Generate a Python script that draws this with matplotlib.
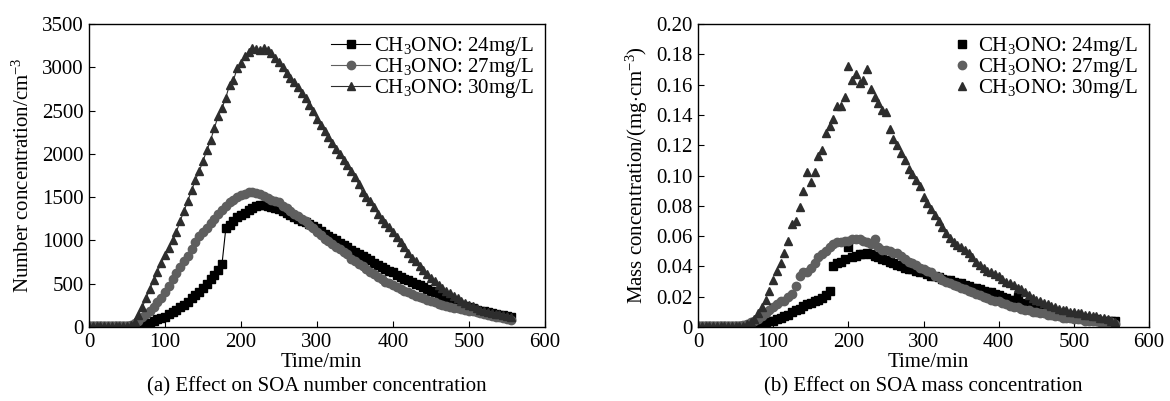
import numpy as np
import matplotlib
matplotlib.use('Agg')
import matplotlib.pyplot as plt

plt.rcParams['font.family'] = ['Liberation Serif', 'DejaVu Serif']
plt.rcParams['mathtext.fontset'] = 'custom'
plt.rcParams['mathtext.rm'] = 'Liberation Serif'
plt.rcParams['mathtext.it'] = 'Liberation Serif:italic'
plt.rcParams['font.size'] = 15

# time axis, min (sampled every 5 min)
t = np.arange(0, 560, 5)

labels = ['CH$_3$ONO: 24mg/L', 'CH$_3$ONO: 27mg/L', 'CH$_3$ONO: 30mg/L']

# (a) number concentration, cm^-3
n24 = [10, 10, 10, 10, 10, 10, 10, 10, 10, 10,
       10, 8, 5, 8, 15, 30, 50, 70, 90, 105,
       120, 145, 170, 200, 230, 260, 290, 330, 370, 410,
       450, 500, 550, 600, 660, 730, 1140, 1180, 1230, 1270,
       1290, 1320, 1350, 1380, 1400, 1415, 1410, 1400, 1390, 1375,
       1360, 1340, 1320, 1295, 1270, 1250, 1230, 1210, 1190, 1165,
       1140, 1110, 1080, 1055, 1030, 1000, 970, 945, 920, 895,
       870, 845, 820, 795, 770, 745, 720, 695, 670, 650,
       630, 605, 580, 560, 540, 520, 500, 480, 460, 440,
       420, 400, 380, 360, 340, 320, 300, 280, 260, 245,
       230, 215, 200, 190, 180, 170, 160, 150, 140, 135,
       130, 120]
n27 = [10, 10, 10, 10, 10, 10, 10, 10, 10, 10,
       15, 25, 45, 75, 110, 145, 180, 230, 290, 340,
       400, 470, 560, 620, 690, 760, 820, 900, 980, 1050,
       1100, 1140, 1200, 1250, 1300, 1350, 1400, 1440, 1470, 1500,
       1520, 1540, 1555, 1560, 1550, 1540, 1510, 1490, 1470, 1460,
       1440, 1400, 1370, 1340, 1310, 1280, 1250, 1220, 1180, 1140,
       1100, 1060, 1020, 990, 960, 930, 900, 870, 840, 780,
       760, 730, 700, 670, 640, 610, 580, 550, 520, 505,
       490, 465, 440, 420, 400, 380, 360, 345, 330, 315,
       300, 285, 270, 255, 245, 235, 225, 215, 205, 198,
       190, 180, 170, 160, 150, 140, 130, 120, 110, 100,
       90, 85]
n30 = [10, 10, 10, 10, 10, 10, 10, 10, 10, 10,
       10, 20, 60, 140, 230, 330, 440, 540, 640, 740,
       830, 910, 1000, 1100, 1230, 1340, 1460, 1580, 1700, 1800,
       1920, 2040, 2160, 2300, 2440, 2530, 2650, 2800, 2850, 2990,
       3050, 3130, 3180, 3220, 3210, 3200, 3220, 3200, 3160, 3110,
       3060, 3000, 2930, 2880, 2830, 2770, 2700, 2640, 2560, 2500,
       2400, 2330, 2260, 2190, 2120, 2060, 2000, 1930, 1870, 1800,
       1730, 1650, 1560, 1500, 1450, 1390, 1310, 1250, 1200, 1160,
       1100, 1040, 980, 920, 860, 800, 760, 710, 660, 610,
       570, 530, 490, 455, 420, 390, 360, 330, 300, 280,
       260, 240, 220, 200, 190, 175, 165, 155, 145, 135,
       125, 120]

# (b) mass concentration, mg/cm^3
m24 = [0.001, 0.001, 0.001, 0.001, 0.001, 0.001, 0.001, 0.001, 0.001, 0.001,
       0.001, 0.001, 0.001, 0.001, 0.001, 0.001, 0.001, 0.002, 0.003, 0.004,
       0.004, 0.005, 0.006, 0.007, 0.008, 0.010, 0.011, 0.012, 0.014, 0.015,
       0.016, 0.017, 0.018, 0.019, 0.021, 0.024, 0.040, 0.042, 0.043, 0.045,
       0.053, 0.046, 0.047, 0.048, 0.048, 0.049, 0.048, 0.047, 0.046, 0.045,
       0.044, 0.043, 0.042, 0.041, 0.040, 0.039, 0.038, 0.038, 0.037, 0.036,
       0.036, 0.035, 0.034, 0.034, 0.033, 0.032, 0.031, 0.031, 0.030, 0.029,
       0.029, 0.028, 0.027, 0.026, 0.026, 0.025, 0.024, 0.023, 0.023, 0.022,
       0.021, 0.020, 0.019, 0.018, 0.018, 0.020, 0.016, 0.015, 0.015, 0.014,
       0.013, 0.013, 0.012, 0.011, 0.011, 0.010, 0.009, 0.009, 0.008, 0.008,
       0.007, 0.007, 0.006, 0.006, 0.005, 0.005, 0.005, 0.004, 0.004, 0.004,
       0.004, 0.004]
m27 = [0.001, 0.001, 0.001, 0.001, 0.001, 0.001, 0.001, 0.001, 0.001, 0.001,
       0.001, 0.001, 0.0015, 0.002, 0.003, 0.004, 0.005, 0.007, 0.009, 0.011,
       0.013, 0.015, 0.017, 0.017, 0.020, 0.022, 0.027, 0.034, 0.036, 0.036,
       0.039, 0.042, 0.046, 0.048, 0.050, 0.053, 0.055, 0.056, 0.056, 0.057,
       0.057, 0.058, 0.058, 0.058, 0.057, 0.056, 0.055, 0.058, 0.053, 0.051,
       0.051, 0.050, 0.049, 0.049, 0.047, 0.045, 0.043, 0.042, 0.041, 0.039,
       0.038, 0.037, 0.036, 0.034, 0.033, 0.031, 0.030, 0.029, 0.028, 0.027,
       0.026, 0.025, 0.024, 0.023, 0.022, 0.021, 0.020, 0.019, 0.018, 0.017,
       0.017, 0.016, 0.015, 0.014, 0.013, 0.013, 0.012, 0.011, 0.011, 0.010,
       0.010, 0.009, 0.009, 0.008, 0.008, 0.007, 0.007, 0.006, 0.006, 0.006,
       0.005, 0.005, 0.005, 0.004, 0.004, 0.004, 0.004, 0.003, 0.003, 0.003,
       0.003, 0.002]
m30 = [0.001, 0.001, 0.001, 0.001, 0.001, 0.001, 0.001, 0.001, 0.001, 0.001,
       0.001, 0.001, 0.001, 0.002, 0.003, 0.005, 0.009, 0.013, 0.018, 0.024,
       0.031, 0.037, 0.042, 0.049, 0.057, 0.068, 0.070, 0.079, 0.090, 0.102,
       0.096, 0.102, 0.113, 0.117, 0.128, 0.133, 0.137, 0.146, 0.146, 0.152,
       0.172, 0.163, 0.167, 0.161, 0.163, 0.170, 0.157, 0.152, 0.148, 0.143,
       0.142, 0.131, 0.124, 0.120, 0.115, 0.110, 0.104, 0.101, 0.097, 0.093,
       0.086, 0.082, 0.078, 0.074, 0.070, 0.066, 0.062, 0.059, 0.056, 0.054,
       0.053, 0.051, 0.049, 0.046, 0.043, 0.041, 0.039, 0.037, 0.036, 0.035,
       0.034, 0.032, 0.030, 0.029, 0.028, 0.026, 0.025, 0.023, 0.021, 0.019,
       0.018, 0.017, 0.016, 0.015, 0.014, 0.013, 0.012, 0.011, 0.011, 0.010,
       0.010, 0.009, 0.009, 0.008, 0.008, 0.007, 0.007, 0.006, 0.006, 0.005,
       0.004, 0.003]

colors = ['#000000', '#5f5f5f', '#2d2d2d']
markers = ['s', 'o', '^']

fig = plt.figure(figsize=(11.7, 4.01), dpi=100)
ax1 = fig.add_axes([0.0761, 0.1845, 0.3897, 0.7556])
ax2 = fig.add_axes([0.5966, 0.1845, 0.3855, 0.7556])

# (a) markers joined by thin lines
for y, c, m, lab in zip([n24, n27, n30], colors, markers, labels):
    ax1.plot(t, y, color=c, marker=m, markersize=6, linewidth=0.8, label=lab)

# (b) markers only
for y, c, m, lab in zip([m24, m27, m30], colors, markers, labels):
    ax2.plot(t, y, color=c, marker=m, markersize=6, linestyle='none', label=lab)

ax1.set_xlim(0, 600)
ax1.set_ylim(0, 3500)
ax1.set_xticks(range(0, 601, 100))
ax1.set_yticks(range(0, 3501, 500))
ax1.set_ylabel('Number concentration/cm$^{-3}$', labelpad=6)

ax2.set_xlim(0, 600)
ax2.set_ylim(0, 0.2)
ax2.set_xticks(range(0, 601, 100))
ax2.set_yticks(np.arange(0, 0.201, 0.02))
ax2.set_yticklabels(['0'] + ['%.2f' % v for v in np.arange(0.02, 0.201, 0.02)])
ax2.set_ylabel('Mass concentration/(mg$\\cdot$cm$^{-3}$)', labelpad=4)

for ax, cap in zip([ax1, ax2], ['(a) Effect on SOA number concentration',
                                '(b) Effect on SOA mass concentration']):
    ax.set_xlabel('Time/min')
    ax.xaxis.set_label_coords(0.51, -0.085)
    ax.tick_params(direction='in', length=4, top=False, right=False, pad=4)
    ax.text(0.5, -0.198, cap, transform=ax.transAxes, ha='center', va='center')
    for s in ax.spines.values():
        s.set_linewidth(1.0)

ax1.legend(loc='upper right', frameon=False, handlelength=1.9, handletextpad=0.15,
           labelspacing=-0.1, borderaxespad=0.15, fontsize=15)
ax2.legend(loc='upper right', frameon=False, handlelength=0.7, handletextpad=0.4,
           labelspacing=-0.1, borderaxespad=0.15, fontsize=15)

fig.savefig('out.png', dpi=100)
